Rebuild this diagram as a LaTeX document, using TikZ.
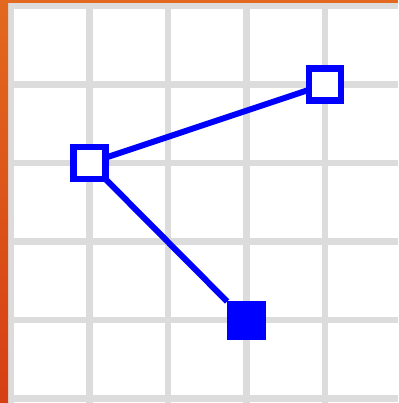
\documentclass[tikz,border=0pt]{standalone}
\definecolor{gridgray}{HTML}{DCDCDC}
\definecolor{bordtop}{HTML}{E2691F}
\definecolor{bordbot}{HTML}{D63F14}
\begin{document}
\begin{tikzpicture}[x=1pt,y=-1pt,
  gridline/.style={draw=gridgray,line width=6.5pt},
  link/.style={draw=blue,line width=6pt},
  openmark/.style={draw=blue,fill=white,line width=6.5pt,minimum size=32pt,inner sep=0pt,outer sep=0pt,rectangle},
  fillmark/.style={draw=blue,fill=blue,line width=1pt,minimum size=38pt,inner sep=0pt,outer sep=0pt,rectangle}]
\useasboundingbox (0,0) rectangle (398,403);
\fill[white] (0,0) rectangle (398,403);
\foreach \i in {0,...,5} {
  \draw[gridline] ({11+78.5*\i},0) -- ({11+78.5*\i},403);
  \draw[gridline] (0,{6+78.5*\i}) -- (398,{6+78.5*\i});
}
\shade[top color=bordtop,bottom color=bordbot] (0,0) rectangle (8,403);
\fill[bordtop] (0,0) rectangle (398,3);
\node[openmark] (a) at (89.5,163) {};
\node[openmark] (b) at (325,84.5) {};
\node[fillmark] (c) at (246,320.5) {};
\draw[link] (a) -- (b);
\draw[link] (a) -- (c);
\end{tikzpicture}
\end{document}
